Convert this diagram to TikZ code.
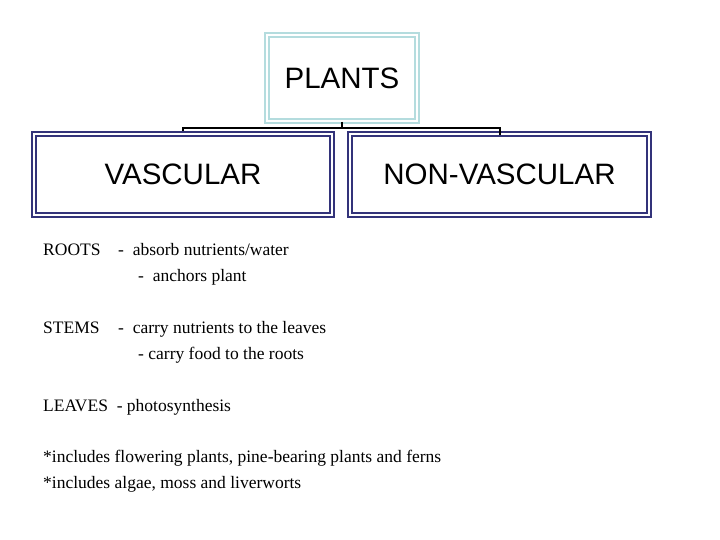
\documentclass[tikz,border=0pt]{standalone}
\usepackage{fontspec}
\setmainfont{Liberation Serif}
\newfontfamily\boxfont{Liberation Sans}
\definecolor{plantc}{HTML}{B4DCDE}
\definecolor{navyc}{HTML}{33337A}
\begin{document}
\begin{tikzpicture}[x=1pt,y=-1pt,
  box/.style={draw=#1,double=white,line width=1.6pt,double distance=2pt,inner sep=0pt,font=\boxfont\fontsize{29.5}{31}\selectfont},
  txt/.style={anchor=base west,inner sep=0pt,font=\fontsize{17.5}{19}\selectfont}]
\useasboundingbox (0,0) rectangle (720,540);
\node[box=plantc,minimum width=150,minimum height=86] (plants) at (342,78) {PLANTS};
\node[box=navyc,minimum width=298,minimum height=81] (vasc) at (183,174.5) {VASCULAR};
\node[box=navyc,minimum width=299,minimum height=81] (nonv) at (499.5,174.5) {NON-VASCULAR};
\coordinate (j) at (342,128.5);
\draw[line width=2pt] (plants.south) -- (j);
\draw[line width=2pt] (vasc.north) ++(0,-2) |- (j) -| ([yshift=-2]nonv.north);
\node[txt] (r1) at (43,255) {ROOTS};
\node[txt] (r1b) at (118,255) {- \ absorb nutrients/water};
\node[txt] (r2) at (138,281) {- \ anchors plant};
\node[txt] (s1) at (43,333) {STEMS};
\node[txt] (s1b) at (118,333) {- \ carry nutrients to the leaves};
\node[txt] (s2) at (138,359) {- carry food to the roots};
\node[txt] (l1) at (43,411) {LEAVES \ - photosynthesis};
\node[txt] (n1) at (43,462) {*includes flowering plants, pine-bearing plants and ferns};
\node[txt] (n2) at (43,488) {*includes algae, moss and liverworts};
\end{tikzpicture}
\end{document}
